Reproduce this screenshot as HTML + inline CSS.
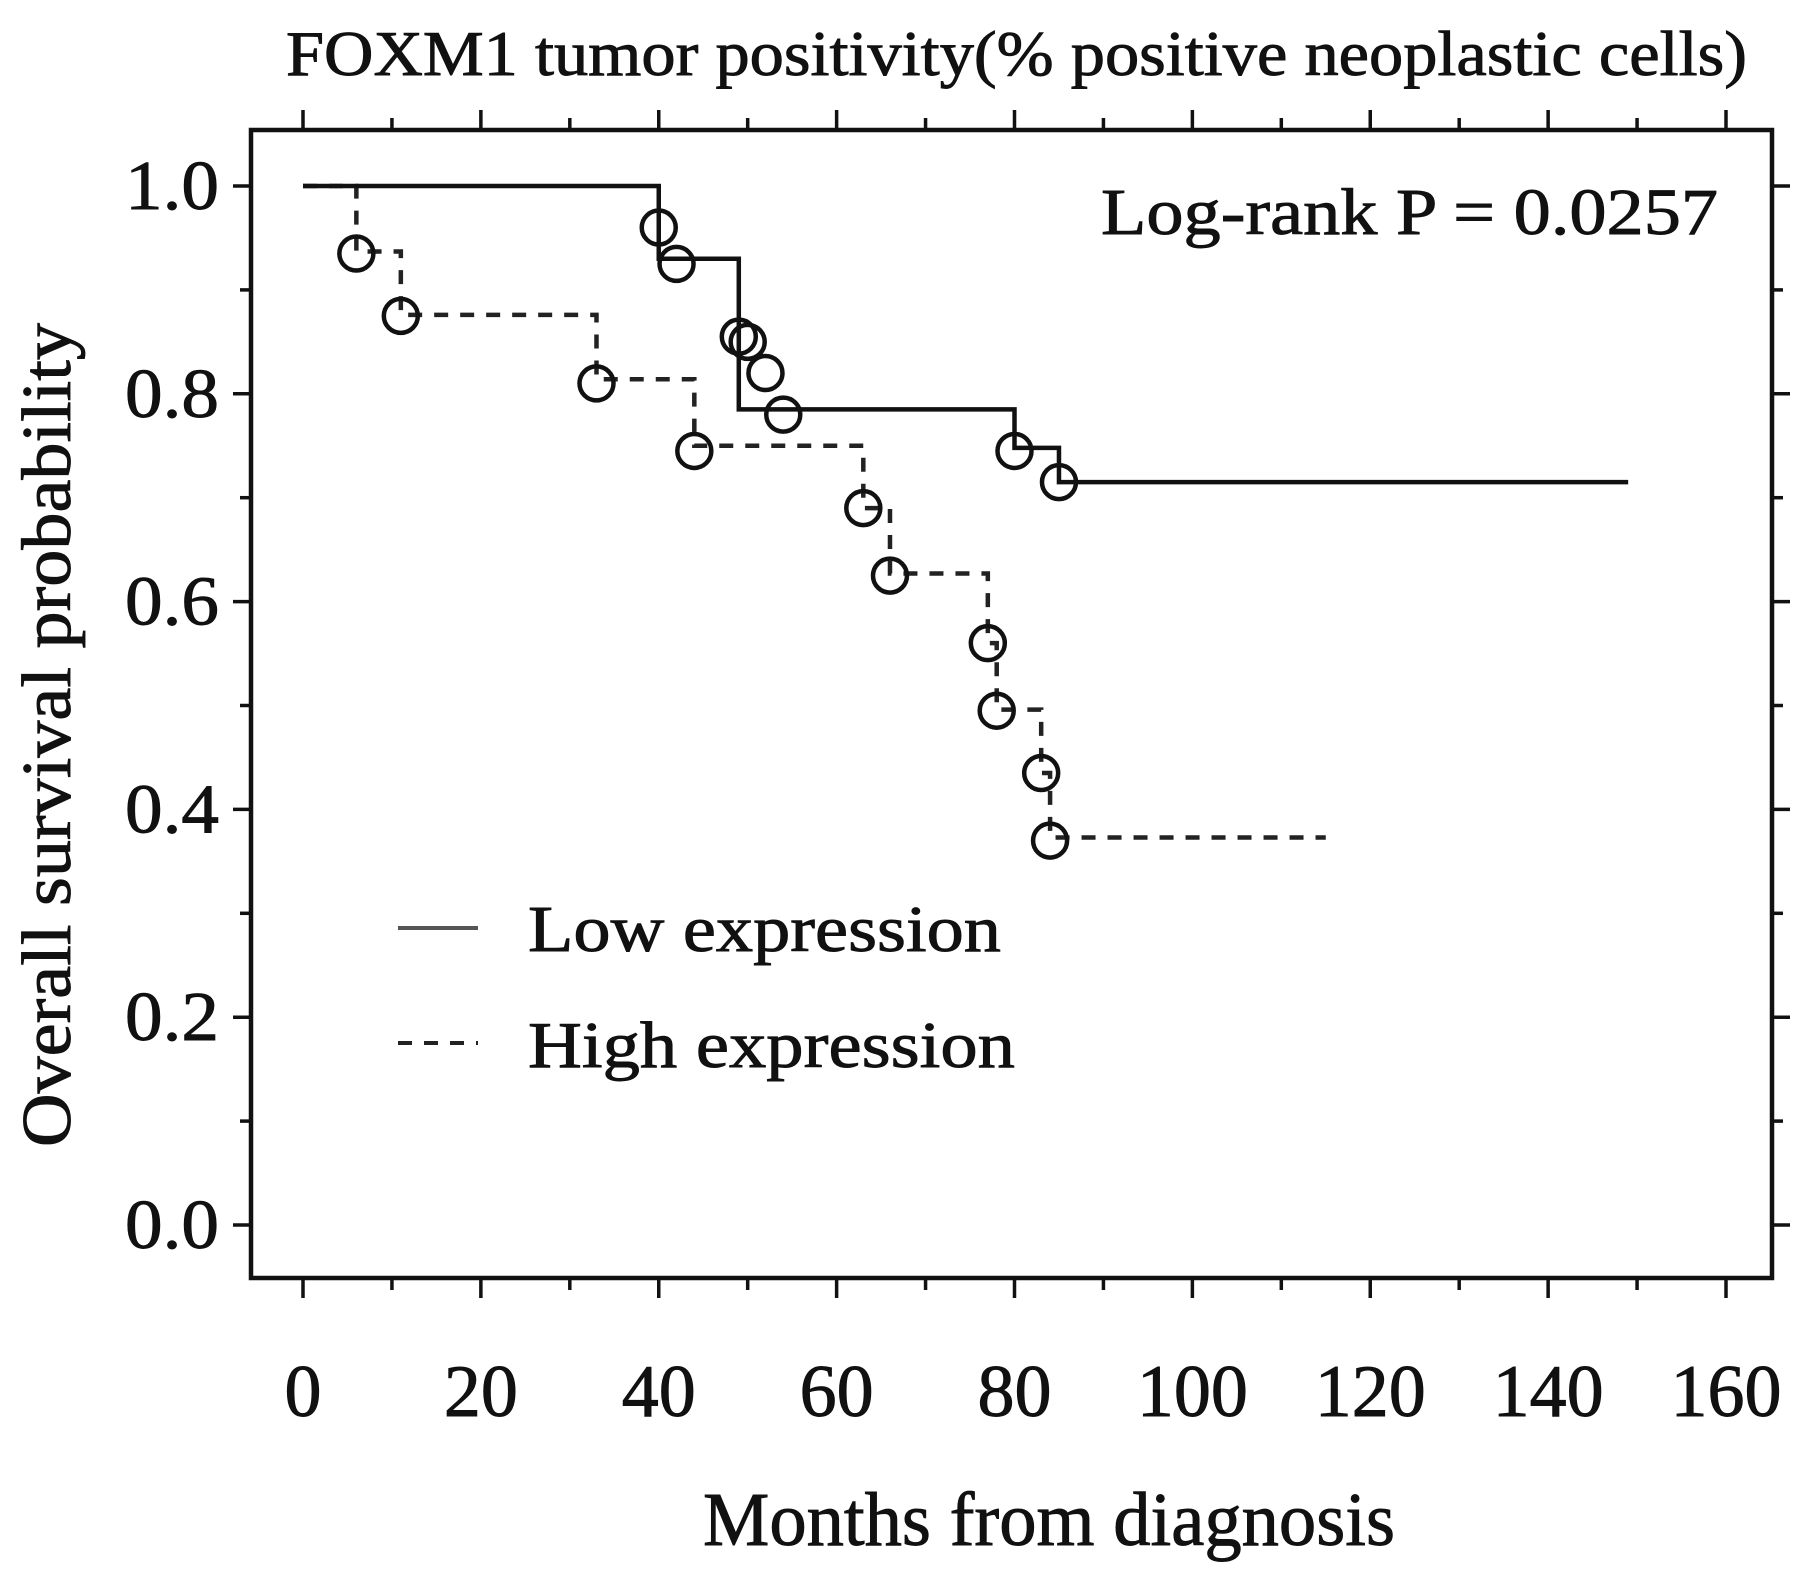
<!DOCTYPE html>
<html><head><meta charset="utf-8"><style>
html,body{margin:0;padding:0;background:#fff}
svg{display:block}
text{font-family:"Liberation Serif",serif;fill:#111;stroke:#111;stroke-width:0.9px}
</style></head><body>
<svg width="1808" height="1580" viewBox="0 0 1808 1580">
<g id="axes"></g>
<g id="series"></g>
<text x="286" y="75" textLength="1461" lengthAdjust="spacingAndGlyphs" font-size="63">FOXM1  tumor positivity(% positive neoplastic cells)</text>
<text x="48" y="735" font-size="70" text-anchor="middle" textLength="824" lengthAdjust="spacingAndGlyphs" transform="rotate(-90 48 735)" dy="22">Overall survival probability</text>
<text x="703" y="1545" font-size="76" textLength="692" lengthAdjust="spacingAndGlyphs">Months from diagnosis</text>
<text x="1101" y="234" font-size="66" textLength="617" lengthAdjust="spacingAndGlyphs">Log-rank P = 0.0257</text>
<g>
<line x1="398" y1="928" x2="478" y2="928" stroke="#555" stroke-width="4"/>
<text x="528" y="951" font-size="66" textLength="473" lengthAdjust="spacingAndGlyphs">Low expression</text>
<line x1="398" y1="1043" x2="478" y2="1043" stroke="#222" stroke-width="4" stroke-dasharray="14,12"/>
<text x="528" y="1067" font-size="66" textLength="487" lengthAdjust="spacingAndGlyphs">High expression</text>
</g>
</svg>
<script>
const xTicks=[0,20,40,60,80,100,120,140,160];
const yTicks=[0.0,0.2,0.4,0.6,0.8,1.0];
const yTickLabels=["0.0","0.2","0.4","0.6","0.8","1.0"];
const lowTimes=[0,40,49,80,85];
const lowSurv=[1.0,0.93,0.785,0.748,0.715];
const lowEnd=149;
const lowCensorT=[40,42,49,50,52,54,80,85];
const lowCensorS=[0.96,0.925,0.855,0.85,0.82,0.78,0.745,0.715];
const highTimes=[0,6,11,33,44,63,66,77,78,83,84];
const highSurv=[1.0,0.937,0.876,0.814,0.75,0.69,0.627,0.56,0.496,0.435,0.373];
const highEnd=115;
const highCensorT=[6,11,33,44,63,66,77,78,83,84];
const highCensorS=[0.935,0.875,0.81,0.745,0.69,0.625,0.56,0.495,0.435,0.37];

const NS="http://www.w3.org/2000/svg";
const X0=303,X1=1726,Y0=1225,Y1=186;
const L=251,R=1772,T=130,B=1278;
function sx(v){return X0+(v/160)*(X1-X0);}
function sy(v){return Y0-v*(Y0-Y1);}
function mk(tag,attrs,parent){const e=document.createElementNS(NS,tag);for(const k in attrs)e.setAttribute(k,attrs[k]);parent.appendChild(e);return e;}
const ax=document.getElementById('axes');
const frame=mk('rect',{x:L,y:T,width:R-L,height:B-T,fill:'none',stroke:'#111','stroke-width':4.5},ax);


for(let m=0;m<=160;m+=10){
  const major=m%20===0,len=major?20:12,x=sx(m);
  const t1=mk('line',{x1:x,y1:B,x2:x,y2:B+len,stroke:'#111','stroke-width':3.5},ax);
  
  
  const t2=mk('line',{x1:x,y1:T,x2:x,y2:T-len,stroke:'#111','stroke-width':3.5},ax);
  
  
}
xTicks.forEach(v=>{
  const t=mk('text',{x:sx(v),y:1416,'font-size':74,'text-anchor':'middle'},ax);
  t.textContent=String(v);
  
  
});
for(let k=0;k<=10;k++){
  const v=k/10,major=k%2===0,len=major?18:11,y=sy(v);
  const a=mk('line',{x1:L,y1:y,x2:L-len,y2:y,stroke:'#111','stroke-width':3.5},ax);
  
  
  const b=mk('line',{x1:R,y1:y,x2:R+len,y2:y,stroke:'#111','stroke-width':3.5},ax);
  
  
}
yTicks.forEach((v,i)=>{
  const t=mk('text',{x:219,y:sy(v)+23,'font-size':70,'text-anchor':'end',textLength:94,lengthAdjust:'spacingAndGlyphs'},ax);
  t.textContent=yTickLabels[i];
  
  
});
const sg=document.getElementById('series');
function stepPath(ts,ss,end){
  let d='M'+sx(ts[0])+','+sy(ss[0]);
  for(let i=1;i<ts.length;i++){d+=' H'+sx(ts[i])+' V'+sy(ss[i]);}
  d+=' H'+sx(end);return d;
}
const hp=mk('path',{d:stepPath(highTimes,highSurv,highEnd),fill:'none',stroke:'#222','stroke-width':4.5,'stroke-dasharray':'14,12'},sg);


const lp=mk('path',{d:stepPath(lowTimes,lowSurv,lowEnd),fill:'none',stroke:'#111','stroke-width':4.5},sg);


lowCensorT.forEach((t,i)=>{
  const c=mk('circle',{cx:sx(t),cy:sy(lowCensorS[i]),r:17,fill:'none',stroke:'#111','stroke-width':4.5},sg);
  
  
});
highCensorT.forEach((t,i)=>{
  const c=mk('circle',{cx:sx(t),cy:sy(highCensorS[i]),r:17,fill:'none',stroke:'#111','stroke-width':4.5},sg);
  
  
});
</script>
</body></html>
